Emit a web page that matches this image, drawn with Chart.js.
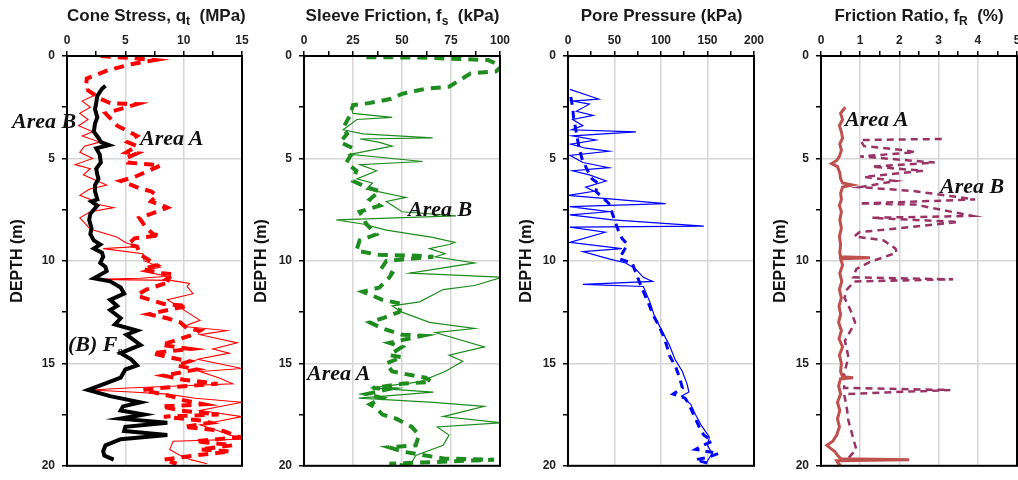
<!DOCTYPE html>
<html>
<head>
<meta charset="utf-8">
<script src="https://cdn.jsdelivr.net/npm/chart.js@4.4.1/dist/chart.umd.min.js"></script>
<style>
  html, body { margin: 0; padding: 0; background: #fff; overflow: hidden; width: 1018px; height: 480px; }
  canvas { position: absolute; top: 0; }
  .ttl { position: absolute; top: 6px; text-align: center; font: bold 17px "Liberation Sans", Arial, sans-serif; color: #1a1a1a; white-space: nowrap; line-height: 20px; }
  .ttl sub, .note sub { font-size: 12px; vertical-align: -4px; line-height: 0; }
  .note { position: absolute; font: italic bold 22px "Liberation Serif", "Times New Roman", serif; color: #111; line-height: 22px; white-space: nowrap; }
  .note sub { font-size: 13px; }
</style>
</head>
<body>
<canvas id="graph1" width="254" height="480" style="left:0px"></canvas>
<canvas id="graph2" width="276" height="480" style="left:237px"></canvas>
<canvas id="graph3" width="266" height="480" style="left:501px"></canvas>
<canvas id="graph4" width="275" height="480" style="left:754px"></canvas>

<div class="ttl" style="left:67px;width:175px">Cone Stress, q<sub>t</sub>&nbsp; (MPa)</div>
<div class="ttl" style="left:304px;width:197px">Sleeve Friction, f<sub>s</sub>&nbsp; (kPa)</div>
<div class="ttl" style="left:568px;width:187px">Pore Pressure (kPa)</div>
<div class="ttl" style="left:821px;width:196px">Friction Ratio, f<sub>R</sub>&nbsp; (%)</div>

<div class="note" style="left:12px;top:110px">Area B</div>
<div class="note" style="left:140px;top:127px">Area A</div>
<div class="note" style="left:68px;top:333px">(B) F<sub>s</sub></div>
<div class="note" style="left:408px;top:198px">Area B</div>
<div class="note" style="left:307px;top:362px">Area A</div>
<div class="note" style="left:845px;top:108px">Area A</div>
<div class="note" style="left:940px;top:175px">Area B</div>

<script>
// ---- cone stress qt (MPa) ----
const qtDepthA = [0, 0.1, 0.2, 0.4, 0.7, 1.1, 1.6, 2.1, 2.3, 2.35, 2.8, 3.4, 3.9, 4.2, 4.4, 4.7, 4.75, 5.0, 5.2, 5.3, 5.35, 5.65, 5.9, 6.1, 6.2, 6.45, 6.6, 6.8, 7.1, 7.3, 7.4, 7.7, 7.9, 8.4, 8.7, 8.75, 8.9, 9.2, 9.3, 9.7, 10.2, 10.4, 10.6, 10.65, 10.9, 11.0, 11.4, 11.6, 11.7, 11.9, 12.1, 12.2, 12.6, 12.8, 13.0, 13.3, 13.4, 13.6, 14.1, 14.3, 14.5, 14.7, 14.9, 15.1, 15.3, 15.6, 15.8, 16.0, 16.2, 16.3, 16.6, 16.8, 17.0, 17.1, 17.3, 17.5, 17.6, 17.8, 17.9, 18.1, 18.3, 18.6, 18.8, 19.0, 19.2, 19.3, 19.5, 19.7, 19.9];
const qtA      = [2.9, 5.5, 7.5, 5.5, 3.5, 1.7, 1.6, 2.9, 3.7, 6.0, 3.3, 4.3, 6.0, 5.2, 6.0, 5.1, 6.0, 5.0, 5.2, 7.2, 8.0, 6.8, 5.8, 4.6, 5.1, 6.2, 7.2, 7.7, 7.2, 8.2, 8.6, 7.2, 6.2, 6.8, 7.4, 8.0, 5.8, 5.2, 6.0, 6.3, 7.7, 6.5, 8.0, 9.2, 8.5, 8.9, 6.8, 6.2, 6.0, 7.1, 8.3, 10.3, 7.0, 8.6, 9.7, 10.3, 11.4, 10.8, 8.1, 10.6, 7.3, 8.7, 10.5, 9.4, 11.1, 8.3, 10.0, 12.9, 8.0, 6.5, 8.9, 10.0, 11.7, 8.1, 9.7, 13.0, 8.3, 11.7, 12.3, 10.0, 13.4, 14.8, 11.0, 14.2, 11.4, 14.0, 10.9, 8.3, 9.4];

const qtDepthB = [1.6, 1.9, 2.2, 2.5, 2.8, 3.1, 3.4, 3.7, 3.9, 4.2, 4.4, 4.7, 5.0, 5.3, 5.5, 5.8, 6.1, 6.3, 6.5, 6.8, 7.0, 7.2, 7.4, 7.6, 7.9, 8.2, 8.4, 8.5, 8.7, 8.85, 9.1, 9.3, 9.4, 9.65, 10.0, 10.3, 10.5, 10.75, 10.85, 10.9, 10.95, 11.1, 11.25, 11.6, 11.9, 12.2, 12.5, 12.9, 13.2, 13.4, 13.6, 14.0, 14.3, 14.5, 14.8, 15.25, 15.4, 15.7, 16.0, 16.2, 16.3, 16.4, 16.5, 16.7, 16.9, 17.3, 17.6, 18.0, 18.3, 18.7, 18.8, 19.2, 19.5, 19.7, 19.9];
const qtB      = [1.6, 2.4, 1.3, 2.0, 1.1, 1.8, 1.0, 2.2, 1.3, 2.8, 1.5, 1.1, 2.2, 0.7, 2.0, 1.4, 2.6, 3.4, 1.9, 1.1, 2.0, 2.3, 4.0, 2.0, 1.1, 1.6, 1.9, 2.3, 3.5, 4.3, 5.0, 6.0, 3.1, 6.5, 6.6, 8.0, 6.4, 8.6, 6.3, 2.3, 8.9, 10.5, 10.3, 10.8, 8.6, 9.5, 10.3, 11.4, 10.0, 13.7, 11.4, 14.6, 12.5, 13.9, 11.2, 15.0, 11.4, 13.0, 14.2, 5.2, 2.0, 5.5, 8.6, 11.0, 15.0, 11.4, 15.0, 11.4, 13.0, 15.0, 9.1, 8.8, 9.7, 10.6, 12.0];

const fsLineDepth = [1.45, 1.6, 1.95, 2.3, 2.6, 3.0, 3.3, 3.7, 4.0, 4.2, 4.35, 4.5, 4.8, 5.2, 5.5, 5.8, 6.0, 6.3, 6.6, 7.0, 7.1, 7.3, 7.7, 8.0, 8.4, 8.7, 9.0, 9.2, 9.4, 9.6, 9.8, 10.1, 10.3, 10.5, 10.85, 11.0, 11.3, 11.6, 11.9, 12.2, 12.4, 12.8, 13.1, 13.4, 13.6, 14.1, 14.5, 14.8, 15.1, 15.3, 15.7, 16.0, 16.3, 16.6, 16.9, 17.1, 17.3, 17.5, 17.7, 17.9, 18.1, 18.3, 18.5, 18.7, 19.0, 19.3, 19.5, 19.7];
const fsLine      = [3.3, 3.0, 2.6, 2.5, 2.4, 2.6, 2.4, 2.3, 2.7, 2.9, 3.6, 2.5, 2.8, 2.9, 2.5, 2.6, 2.7, 2.4, 2.4, 2.6, 2.1, 2.6, 2.0, 1.9, 2.1, 2.0, 2.3, 2.85, 2.3, 3.0, 3.1, 2.85, 3.3, 3.4, 2.3, 3.7, 4.6, 4.9, 3.7, 4.3, 3.7, 4.6, 4.1, 6.0, 5.1, 6.3, 4.6, 5.5, 6.0, 5.0, 4.6, 3.2, 1.8, 3.7, 6.3, 4.8, 4.6, 6.6, 4.6, 8.6, 5.0, 4.9, 8.6, 4.6, 3.3, 3.1, 3.2, 4.0];

// ---- sleeve friction fs (kPa) ----
const fsDepthA = [0.06, 0.07, 0.1, 0.2, 0.5, 0.75, 0.85, 1.5, 1.6, 1.85, 2.1, 2.3, 2.4, 2.9, 3.5, 3.8, 4.2, 4.5, 4.7, 4.9, 5.2, 5.6, 6.1, 6.4, 6.6, 7.0, 7.3, 7.6, 8.2, 8.7, 9.0, 9.5, 9.7, 9.75, 9.8, 10.0, 10.3, 10.6, 10.8, 11.3, 11.5, 11.9, 12.1, 12.5, 12.8, 13.0, 13.3, 13.6, 13.65, 14.0, 14.2, 14.6, 14.7, 15.0, 15.4, 15.7, 15.9, 16.0, 16.2, 16.25, 16.5, 16.7, 17.0, 17.2, 17.5, 17.7, 18.1, 18.5, 19.0, 19.1, 19.3, 19.5, 19.65, 19.7, 19.9, 20.0];
const fsA      = [31.8, 54, 67, 94, 101, 98, 85, 74, 62, 50, 44, 33, 25, 23.5, 20, 22, 18.4, 25, 25, 23.5, 21.6, 26.7, 25, 31.8, 38.6, 33.5, 38.6, 28.4, 31.8, 36.9, 28.4, 26.7, 38, 58, 66, 42, 40, 45, 43.6, 38.5, 30, 40, 50, 48.4, 40, 33.6, 40, 50, 60.4, 43.6, 50, 43.6, 50, 42, 45, 62, 65, 50, 35, 43.6, 31.8, 40, 33.6, 37, 40, 47, 55, 58.7, 57, 43.6, 50, 62, 72, 97, 43.6, 52];

const fsDepthB = [2.5, 2.8, 3.0, 3.1, 3.6, 3.8, 4.0, 4.05, 4.2, 4.4, 4.8, 5.15, 5.3, 5.6, 6.0, 6.2, 6.5, 6.9, 7.1, 7.6, 7.8, 8.0, 8.2, 8.5, 8.85, 9.1, 9.2, 9.4, 9.65, 9.8, 10.1, 10.6, 10.8, 11.2, 11.4, 12.0, 12.2, 12.5, 13.0, 13.3, 13.5, 14.2, 14.6, 14.9, 15.4, 15.9, 16.2, 16.4, 16.7, 16.9, 17.1, 17.6, 17.9, 18.1, 18.5, 19.0, 19.5, 20.0];
const fsB      = [24, 25, 45, 27, 20, 30, 65.6, 28.5, 38, 45, 23.5, 60.5, 28.5, 37, 27, 35, 31.8, 52, 42, 50, 77.6, 16.5, 30, 42, 65.6, 77, 74, 64, 72, 67, 87, 54, 101, 87, 71, 59, 45, 50, 64, 87, 67, 92, 74, 81, 72, 59, 34, 66, 28, 66, 92, 71, 101, 68, 74, 71, 57, 54];

// ---- pore pressure u (kPa) ----
const uDepthA = [2.0, 2.5, 3.0, 3.5, 4.0, 4.5, 5.0, 5.5, 6.0, 6.2, 6.6, 7.2, 7.6, 8.0, 8.5, 8.9, 9.2, 9.5, 9.9, 10.1, 10.7, 11.4, 12.0, 12.6, 13.1, 13.6, 14.1, 14.6, 15.2, 15.7, 16.2, 16.5, 16.7, 17.0, 17.5, 18.1, 18.5, 18.8, 19.0, 19.2, 19.4, 19.6, 19.7, 19.9];
const uA      = [3, 5, 6, 8, 10, 12, 15, 20, 26, 32, 30, 44, 47, 50, 54, 58, 64, 60, 55, 69, 74, 80, 86, 91, 97, 102, 106, 109, 116, 120, 123, 113, 126, 130, 135, 141, 146, 155, 145, 137, 162, 150, 137, 152];

const uDepthB = [1.63, 2.1, 2.2, 2.35, 2.7, 2.9, 3.1, 3.4, 3.6, 3.7, 3.9, 4.1, 4.3, 4.5, 4.65, 4.85, 5.2, 5.45, 5.6, 5.8, 6.1, 6.4, 6.6, 6.8, 7.0, 7.2, 7.35, 7.6, 7.75, 8.0, 8.3, 8.35, 8.6, 9.1, 9.4, 9.55, 9.9, 10.1, 10.4, 10.8, 11.0, 11.15, 11.25, 12.0, 12.7, 13.5, 14.1, 14.8, 15.4, 16.0, 16.4, 16.6, 17.0, 17.5, 18.0, 18.6, 19.0, 19.4, 19.9];
const uB      = [2, 33, 5, 23, 9, 27, 5, 16, 4, 73, 5, 30, 3, 19, 44, 2, 16, 44, 5, 23, 41, 19, 28, 0, 51, 105, 2, 44, 2, 48, 146, 2, 40, 2, 58, 16, 44, 62, 73, 81, 91, 16, 81, 88, 93, 102, 109, 115, 123, 128, 130, 122, 132, 137, 143, 152, 150, 155, 148];

// ---- friction ratio fR (%) ----
const frDepthA = [2.5, 2.8, 3.1, 3.4, 3.7, 4.0, 4.3, 4.6, 4.9, 5.1, 5.25, 5.4, 5.7, 6.0, 6.2, 6.3, 6.4, 6.7, 7.0, 7.3, 7.6, 8.0, 8.4, 8.8, 9.2, 9.6, 9.8, 9.85, 9.9, 10.2, 10.6, 11.0, 11.4, 11.8, 12.2, 12.6, 13.0, 13.4, 13.8, 14.2, 14.6, 15.0, 15.4, 15.65, 15.7, 15.75, 16.1, 16.5, 16.9, 17.3, 17.7, 18.1, 18.5, 18.8, 19.0, 19.3, 19.55, 19.65, 19.7, 19.75, 19.9, 20.0];
const frA      = [0.62, 0.5, 0.55, 0.47, 0.52, 0.55, 0.48, 0.52, 0.47, 0.4, 0.27, 0.42, 0.48, 0.5, 0.55, 0.8, 0.55, 0.5, 0.52, 0.47, 0.52, 0.48, 0.52, 0.47, 0.5, 0.48, 0.5, 1.25, 0.5, 0.55, 0.48, 0.53, 0.47, 0.52, 0.46, 0.5, 0.45, 0.52, 0.46, 0.55, 0.47, 0.52, 0.5, 0.55, 0.82, 0.5, 0.45, 0.5, 0.42, 0.48, 0.42, 0.47, 0.4, 0.3, 0.15, 0.35, 0.45, 0.5, 2.25, 0.4, 0.45, 0.5];

const frDepthB = [4.05, 4.1, 4.4, 4.6, 4.7, 4.9, 5.2, 5.4, 5.6, 5.9, 6.1, 6.4, 6.6, 7.0, 7.2, 7.25, 7.8, 7.9, 8.1, 8.4, 8.6, 8.8, 9.0, 9.4, 9.6, 10.05, 10.4, 10.8, 10.9, 11.0, 11.4, 11.8, 12.4, 13.0, 13.9, 14.7, 15.5, 16.2, 16.3, 16.5, 17.2, 17.8, 18.5, 19.2, 19.7];
const frB      = [3.08, 1.0, 1.1, 2.15, 2.4, 1.0, 2.9, 1.3, 2.6, 1.1, 1.9, 1.0, 2.4, 3.93, 0.98, 2.4, 3.85, 1.3, 3.5, 2.0, 0.98, 0.85, 1.6, 1.9, 1.93, 1.25, 0.9, 0.82, 3.37, 0.85, 0.66, 0.6, 0.75, 0.87, 0.61, 0.7, 0.59, 0.59, 3.3, 0.59, 0.66, 0.7, 0.8, 0.9, 0.66];

Chart.defaults.font.family = "'Liberation Sans', Arial, sans-serif";

function pts(depths, values) {
  return depths.map((d, i) => ({ x: values[i], y: d }));
}

function line(data, color, width, dash) {
  return {
    data: data,
    borderColor: color,
    backgroundColor: color,
    borderWidth: width,
    borderDash: dash || [],
    showLine: true,
    pointRadius: 0,
    tension: 0,
    borderCapStyle: "butt",
  };
}

const frame = {
  id: "frame",
  afterDraw(chart) {
    const a = chart.chartArea;
    const ctx = chart.ctx;
    ctx.save();
    ctx.strokeStyle = "#000";
    ctx.lineWidth = 2;
    ctx.strokeRect(a.left, a.top, a.right - a.left, a.bottom - a.top);
    ctx.restore();
  },
};

function makePanel(id, xMax, xStep, xMajor, titlePad, datasets) {
  const gridColor = (major) => (c) => (c.tick && Math.abs(c.tick.value / major - Math.round(c.tick.value / major)) < 1e-6) ? "#d6d6d6" : "rgba(0,0,0,0)";
  return new Chart(document.getElementById(id).getContext("2d"), {
    type: "scatter",
    data: { datasets: datasets },
    options: {
      responsive: false,
      animation: false,
      layout: { padding: { left: 0, right: 12, top: 0, bottom: 8 } },
      plugins: { legend: { display: false }, tooltip: { enabled: false } },
      scales: {
        x: {
          type: "linear",
          position: "top",
          min: 0,
          max: xMax,
          afterFit: (s) => { s.height = 56; },
          ticks: {
            stepSize: xStep,
            autoSkip: false,
            maxRotation: 0,
            padding: 3,
            color: "#222",
            font: { size: 12, weight: "bold" },
            callback: (v) => (Math.abs(v / xMajor - Math.round(v / xMajor)) < 1e-6 ? v : ""),
          },
          grid: { color: gridColor(xMajor), tickColor: "#000", tickLength: 5, lineWidth: 1.5 },
          border: { color: "#000", width: 2 },
        },
        y: {
          type: "linear",
          reverse: true,
          min: 0,
          max: 20,
          afterFit: (s) => { s.width = 67; },
          ticks: {
            stepSize: 2.5,
            autoSkip: false,
            padding: 7,
            color: "#222",
            font: { size: 12, weight: "bold" },
            callback: (v) => (v % 5 === 0 ? v : ""),
          },
          grid: { color: gridColor(5), tickColor: "#000", tickLength: 5, lineWidth: 1.5 },
          border: { color: "#000", width: 2 },
          title: {
            display: true,
            text: "DEPTH (m)",
            color: "#111",
            font: { size: 16, weight: "bold" },
            padding: { top: titlePad, bottom: 0 },
          },
        },
      },
    },
    plugins: [frame],
  });
}

const graph1 = makePanel("graph1", 15, 2.5, 5, 8, [
  line(pts(fsLineDepth, fsLine), "#000000", 4),
  line(pts(qtDepthA, qtA), "#ff0000", 4, [10, 7]),
  line(pts(qtDepthB, qtB), "#ff0000", 1.1),
]);

const graph2 = makePanel("graph2", 100, 12.5, 25, 15, [
  line(pts(fsDepthA, fsA), "#1f8c1f", 4, [10, 7]),
  line(pts(fsDepthB, fsB), "#1f8c1f", 1.2),
]);

const graph3 = makePanel("graph3", 200, 25, 50, 16, [
  line(pts(uDepthA, uA), "#0000ff", 3, [8, 6]),
  line(pts(uDepthB, uB), "#0000ff", 1.2),
]);

const graph4 = makePanel("graph4", 5, 0.5, 1, 17, [
  line(pts(frDepthA, frA), "#c0504d", 3),
  line(pts(frDepthB, frB), "#993366", 2.5, [7, 5]),
]);
</script>
</body>
</html>
